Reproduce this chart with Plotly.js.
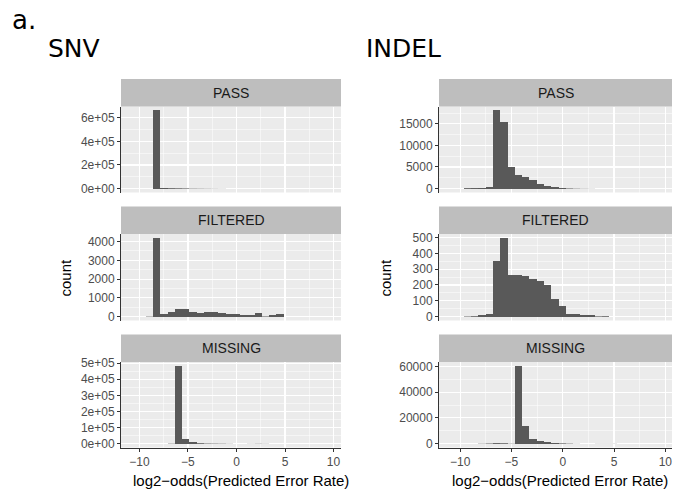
<!DOCTYPE html>
<html>
<head>
<meta charset="utf-8">
<script src="https://cdn.plot.ly/plotly-3.0.1.min.js"></script>
<style>html,body{margin:0;padding:0;background:#fff;}#chart{width:675px;height:491px;}</style>
</head>
<body>
<div id="chart"></div>
<script>
// ---- data ----
const snvBins = [-9.72, -8.98, -8.23, -7.48, -6.73, -5.99, -5.24, -4.49, -3.74, -2.99, -2.24, -1.50, -0.75, 0.00, 0.75, 1.50, 2.24, 2.99, 3.74, 4.49];
const snvPass = [0, 0, 662000, 9000, 7000, 6000, 5000, 3000, 2500, 2000, 1500, 1000, 600, 300, 200, 100, 60, 40, 20, 10];
const snvFiltered = [0, 20, 4197, 130, 260, 430, 395, 230, 180, 250, 250, 180, 160, 125, 90, 70, 210, 30, 80, 130];
const snvMissing = [0, 0, 0, 0, 2000, 483000, 26000, 8000, 5000, 3000, 2500, 2000, 1000, 500, 300, 800, 1500, 1000, 300, 100];

const indelBins = [-9.28, -8.57, -7.86, -7.15, -6.44, -5.73, -5.02, -4.31, -3.60, -2.89, -2.18, -1.47, -0.76, -0.06, 0.65, 1.36, 2.07, 2.78, 3.49, 4.20, 4.90, 5.61, 6.32];
const indelPass = [200, 220, 240, 260, 18100, 15500, 4900, 3050, 2750, 1950, 1100, 700, 400, 230, 130, 80, 50, 30, 20, 10, 5, 5, 5];
const indelFiltered = [3, 5, 8, 15, 350, 498, 265, 265, 260, 238, 224, 198, 110, 64, 18, 15, 12, 10, 4, 5, 0, 0, 0];
const indelMissing = [0, 0, 200, 400, 700, 600, 200, 60500, 13800, 3400, 2300, 1300, 800, 500, 300, 100, 50, 50, 100, 100, 100, 50, 0];

const facetLabels = ["PASS", "FILTERED", "MISSING"];
const groupTitles = ["SNV", "INDEL"];
const xTickVals = [-10, -5, 0, 5, 10];
const xTickText = ["\u221210", "\u22125", "0", "5", "10"];

const snvPassTicks = [0, 200000, 400000, 600000];
const snvPassLabels = ["0e+00", "2e+05", "4e+05", "6e+05"];
const snvFiltTicks = [0, 1000, 2000, 3000, 4000];
const snvFiltLabels = ["0", "1000", "2000", "3000", "4000"];
const snvMissTicks = [0, 100000, 200000, 300000, 400000, 500000];
const snvMissLabels = ["0e+00", "1e+05", "2e+05", "3e+05", "4e+05", "5e+05"];
const indelPassTicks = [0, 5000, 10000, 15000];
const indelPassLabels = ["0", "5000", "10000", "15000"];
const indelFiltTicks = [0, 100, 200, 300, 400, 500];
const indelFiltLabels = ["0", "100", "200", "300", "400", "500"];
const indelMissTicks = [0, 20000, 40000, 60000];
const indelMissLabels = ["0", "20000", "40000", "60000"];

// ---- layout geometry (pixels) ----
const W = 675, H = 491;
const colPx = [[121, 341], [439, 672]];
const xRanges = [[-11.9, 10.77], [-12.06, 10.65]];
const binWidths = [0.748, 0.709];
const rowPx = [[106.5, 192.5], [234, 320.5], [362, 447.5]]; // plot top,bottom
const stripH = 27.5;

const panels = [
  {col: 0, row: 0, x: snvBins, y: snvPass, tv: snvPassTicks, tt: snvPassLabels},
  {col: 0, row: 1, x: snvBins, y: snvFiltered, tv: snvFiltTicks, tt: snvFiltLabels},
  {col: 0, row: 2, x: snvBins, y: snvMissing, tv: snvMissTicks, tt: snvMissLabels},
  {col: 1, row: 0, x: indelBins, y: indelPass, tv: indelPassTicks, tt: indelPassLabels},
  {col: 1, row: 1, x: indelBins, y: indelFiltered, tv: indelFiltTicks, tt: indelFiltLabels},
  {col: 1, row: 2, x: indelBins, y: indelMissing, tv: indelMissTicks, tt: indelMissLabels}
];

const font = "Liberation Sans, Arial, Helvetica, sans-serif";
const titleFont = "DejaVu Sans, sans-serif";
const px2x = p => p / W;
const px2y = p => 1 - p / H;

function midpoints(arr) {
  const step = arr[1] - arr[0];
  const out = [];
  for (let i = 0; i < arr.length; i++) out.push(arr[i] + step / 2);
  return out;
}

const data = [];
const layout = {
  width: W, height: H, autosize: false,
  margin: {l: 0, r: 0, t: 0, b: 0, pad: 0},
  paper_bgcolor: "#ffffff",
  plot_bgcolor: "#ebebeb",
  showlegend: false,
  bargap: 0,
  shapes: [],
  annotations: []
};

panels.forEach((p, i) => {
  const n = i === 0 ? "" : String(i + 1);
  const xa = "xaxis" + n, ya = "yaxis" + n;
  const xr = "x" + n, yr = "y" + n;
  const maxY = Math.max(...p.y);
  const bottom = p.row === 2;
  const plotH = rowPx[p.row][1] - rowPx[p.row][0];
  const spanY = 1.1 * maxY;
  // sub-pixel bars are drawn faint (like anti-aliased raster output)
  const op = p.y.map(v => Math.min(1, Math.max(0.12, v / spanY * plotH)));
  data.push({
    type: "bar", x: p.x, y: p.y, xaxis: xr, yaxis: yr,
    width: binWidths[p.col],
    marker: {color: "#595959", opacity: op, line: {width: 0}},
    hoverinfo: "skip"
  });
  const xm = midpoints(xTickVals).concat([xTickVals[0] - 2.5]);
  layout[xa] = {
    domain: [px2x(colPx[p.col][0]), px2x(colPx[p.col][1])],
    range: xRanges[p.col],
    anchor: yr,
    tickmode: "array", tickvals: xTickVals, ticktext: xTickText,
    showticklabels: bottom,
    ticks: bottom ? "outside" : "", ticklen: 3, tickcolor: "#333333", tickwidth: 1,
    tickfont: {family: font, size: 12, color: "#4d4d4d"},
    showgrid: true, gridcolor: "#ffffff", gridwidth: 1.1,
    minor: {tickmode: "array", tickvals: xm, showgrid: true, gridcolor: "#ffffff", gridwidth: 0.5, ticks: ""},
    zeroline: false,
    showline: bottom, linecolor: "#333333", linewidth: 1,
    fixedrange: true
  };
  const ym = midpoints(p.tv);
  layout[ya] = {
    domain: [px2y(rowPx[p.row][1]), px2y(rowPx[p.row][0])],
    range: [-0.05 * maxY, 1.05 * maxY],
    anchor: xr,
    tickmode: "array", tickvals: p.tv, ticktext: p.tt,
    ticks: "outside", ticklen: 3, tickcolor: "#333333", tickwidth: 1,
    tickfont: {family: font, size: 12, color: "#4d4d4d"},
    showgrid: true, gridcolor: "#ffffff", gridwidth: 1.1,
    minor: {tickmode: "array", tickvals: ym, showgrid: true, gridcolor: "#ffffff", gridwidth: 0.5, ticks: ""},
    zeroline: false,
    showline: true, linecolor: "#333333", linewidth: 1,
    fixedrange: true
  };
  // strip
  const top = rowPx[p.row][0];
  layout.shapes.push({
    type: "rect", xref: "paper", yref: "paper", layer: "above",
    x0: px2x(colPx[p.col][0]), x1: px2x(colPx[p.col][1]),
    y0: px2y(top), y1: px2y(top - stripH),
    fillcolor: "#bebebe", line: {width: 0}
  });
  layout.annotations.push({
    xref: "paper", yref: "paper", showarrow: false,
    x: px2x((colPx[p.col][0] + colPx[p.col][1]) / 2), y: px2y(top - stripH / 2),
    xanchor: "center", yanchor: "middle",
    text: facetLabels[p.row], font: {family: font, size: 14, color: "#1a1a1a"}
  });
});

// panel-group texts
layout.annotations.push({xref: "paper", yref: "paper", showarrow: false, x: px2x(10), y: px2y(19.5),
  xanchor: "left", yanchor: "middle", text: "a.", font: {family: titleFont, size: 26, color: "#000"}});
layout.annotations.push({xref: "paper", yref: "paper", showarrow: false, x: px2x(46), y: px2y(48),
  xanchor: "left", yanchor: "middle", text: groupTitles[0], font: {family: titleFont, size: 25, color: "#000"}});
layout.annotations.push({xref: "paper", yref: "paper", showarrow: false, x: px2x(364), y: px2y(48),
  xanchor: "left", yanchor: "middle", text: groupTitles[1], font: {family: titleFont, size: 25, color: "#000"}});
// axis titles
[65, 385].forEach(xp => layout.annotations.push({xref: "paper", yref: "paper", showarrow: false,
  x: px2x(xp), y: px2y(277.5), xanchor: "center", yanchor: "middle", textangle: -90,
  text: "count", font: {family: font, size: 15, color: "#000"}}));
[240.5, 559.5].forEach(xp => layout.annotations.push({xref: "paper", yref: "paper", showarrow: false,
  x: px2x(xp), y: px2y(480), xanchor: "center", yanchor: "middle",
  text: "log2\u2212odds(Predicted Error Rate)", font: {family: font, size: 15, color: "#000"}}));

Plotly.newPlot("chart", data, layout, {staticPlot: true, displayModeBar: false});
</script>
</body>
</html>
